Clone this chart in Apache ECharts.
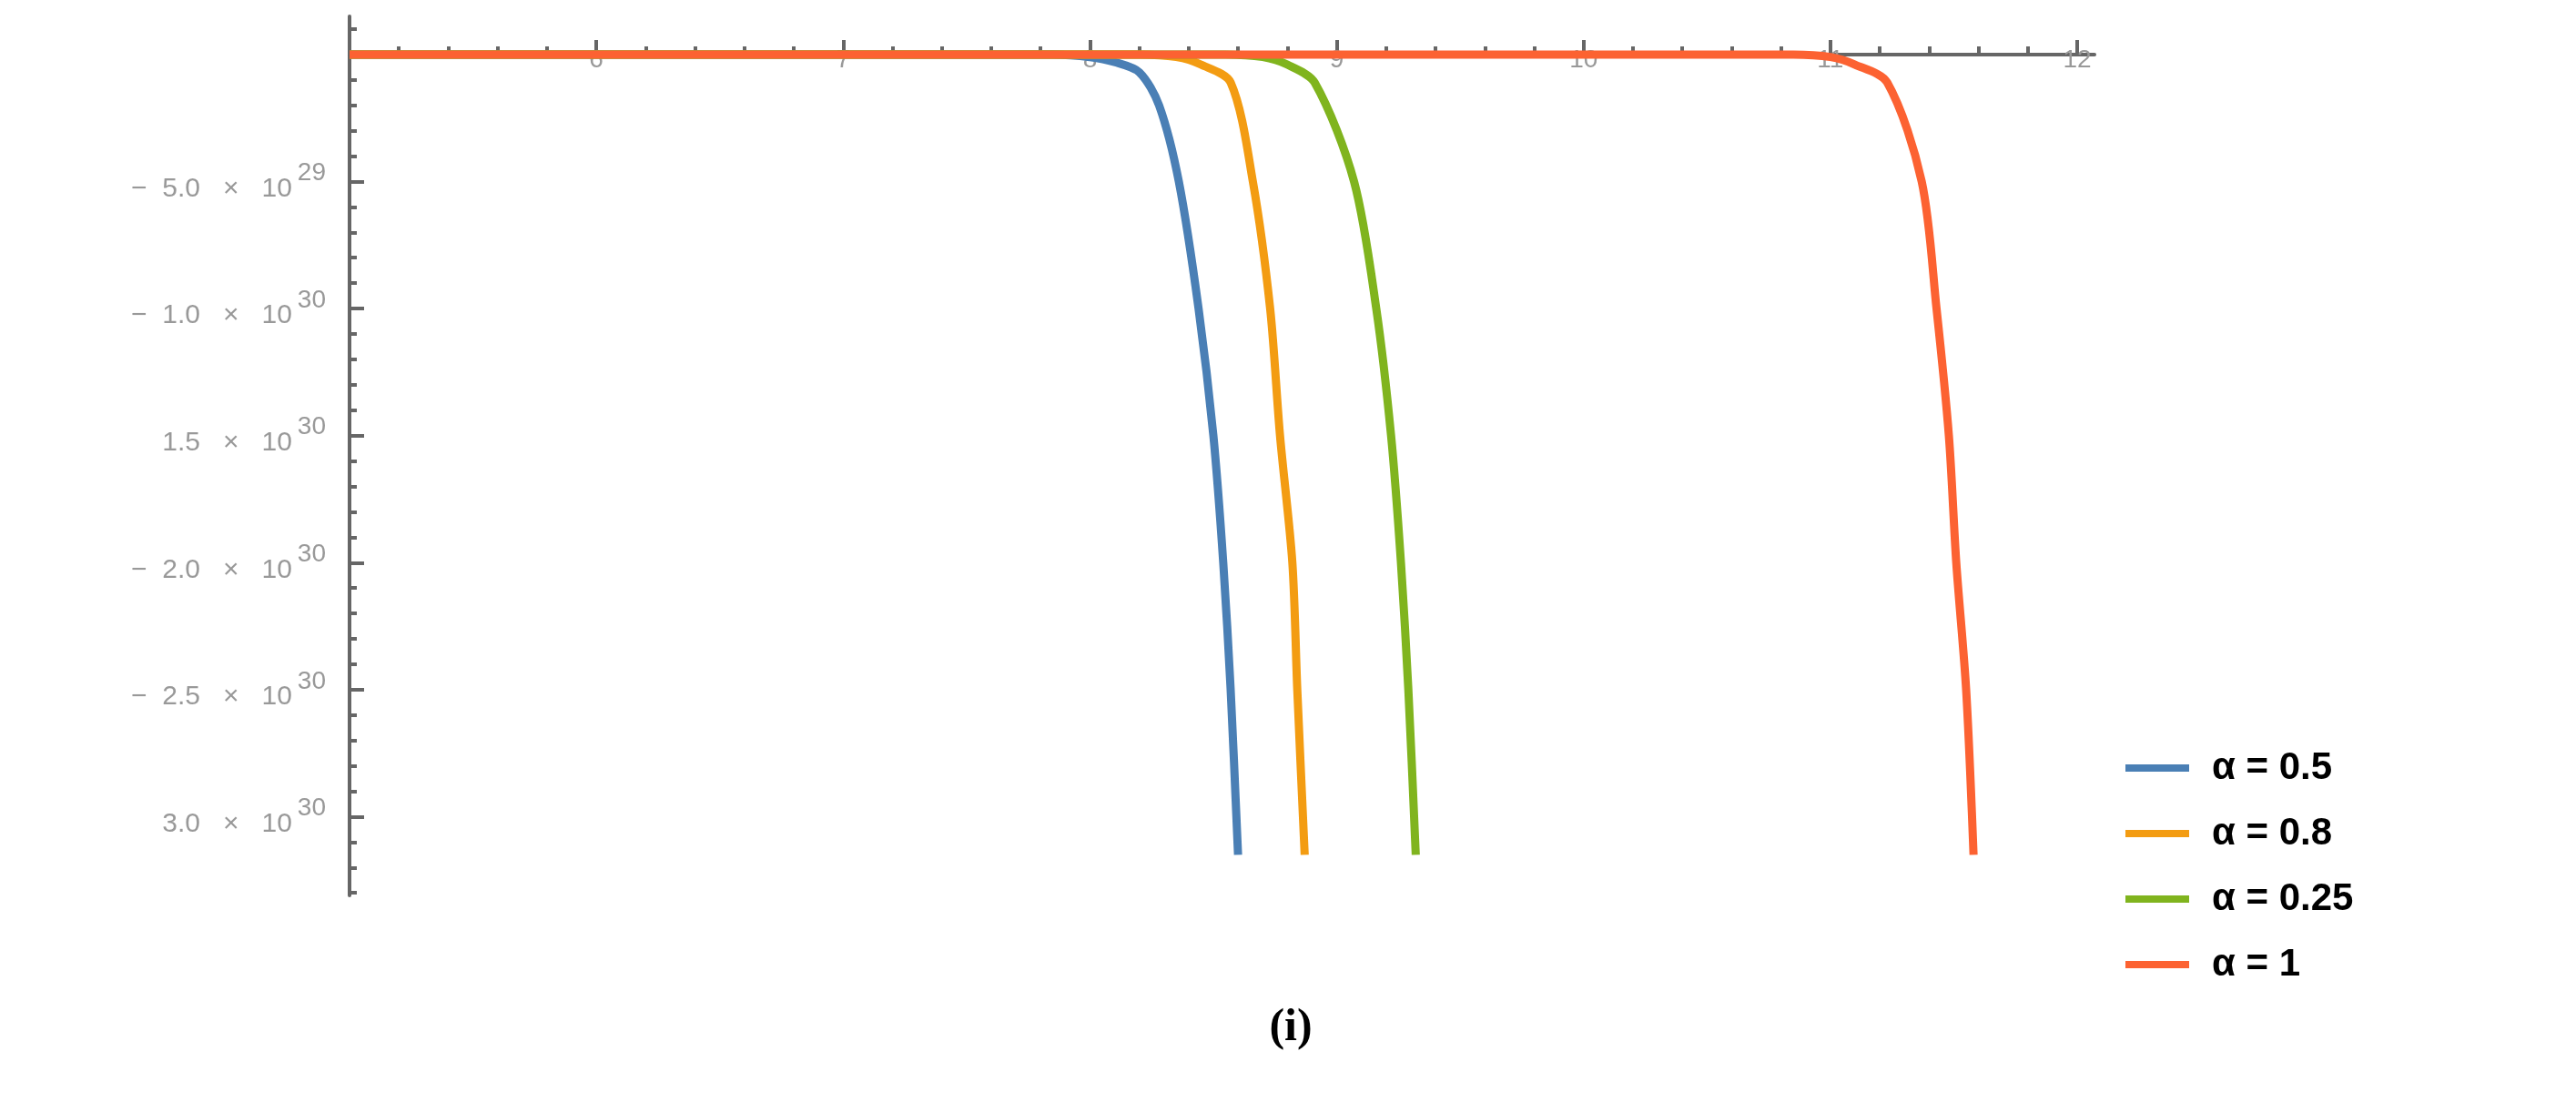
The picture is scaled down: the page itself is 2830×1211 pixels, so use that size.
<!DOCTYPE html>
<html>
<head>
<meta charset="utf-8">
<script src="https://cdn.jsdelivr.net/npm/echarts@6/dist/echarts.min.js"></script>
<style>
  html, body {margin: 0; background: #fff;}
  #chart {width: 2830px; height: 1211px;}
</style>
</head>
<body>
<div id="chart"></div>
<script>
// y values are in units of 1e30
var xTicks = [6, 7, 8, 9, 10, 11, 12];
var yTicks = [-0.5, -1.0, -1.5, -2.0, -2.5, -3.0];
var seriesNames = ['α = 0.5', 'α = 0.8', 'α = 0.25', 'α = 1'];
var seriesColors = ['#4a7fb5', '#f39c12', '#80b41e', '#fc6232'];

var curve05 = [[5, 0], [7.85, 0], [8.0, -0.01], [8.1, -0.03], [8.2, -0.07], [8.28, -0.2], [8.36, -0.5],
    [8.44, -1.0], [8.5, -1.5], [8.54, -2.0], [8.57, -2.5], [8.6, -3.15]];
var curve08 = [[5, 0], [8.2, 0], [8.35, -0.01], [8.45, -0.04], [8.57, -0.11], [8.66, -0.5],
    [8.73, -1.0], [8.77, -1.5], [8.82, -2.0], [8.84, -2.5], [8.87, -3.15]];
var curve025 = [[5, 0], [8.55, 0], [8.7, -0.01], [8.8, -0.04], [8.91, -0.11], [9.07, -0.5],
    [9.16, -1.0], [9.22, -1.5], [9.26, -2.0], [9.29, -2.5], [9.32, -3.15]];
var curve1 = [[5, 0], [10.85, 0], [11.0, -0.01], [11.1, -0.04], [11.23, -0.11], [11.37, -0.5],
    [11.43, -1.0], [11.48, -1.5], [11.51, -2.0], [11.55, -2.5], [11.58, -3.15]];
var curves = [curve05, curve08, curve025, curve1];

var xMinor = [], yMinor = [];
for (var i = 0; i <= 35; i++) { xMinor.push(5 + i * 0.2); }
for (var j = 1; j <= 33; j++) { yMinor.push(-j * 0.1); }
yMinor.push(0.1);

var gray = '#666';
var chart = echarts.init(document.getElementById('chart'));
chart.setOption({
    animation: false,
    grid: {left: 384, right: 529, top: 18, bottom: 227},
    legend: {
        orient: 'vertical', left: 2330, top: 818, itemGap: 30,
        itemWidth: 70, itemHeight: 8, icon: 'rect',
        textStyle: {fontSize: 42, fontWeight: 'bold', color: '#000', fontFamily: 'Liberation Sans',
            padding: [0, 0, 0, 20]},
        data: seriesNames
    },
    title: {
        text: '(i)', left: 1413, top: 1100, textAlign: 'center',
        textStyle: {fontSize: 50, fontWeight: 'bold', fontFamily: 'Liberation Serif', color: '#000'}
    },
    xAxis: [{
        type: 'value', min: 5, max: 12.07, position: 'top',
        axisLine: {onZero: true, lineStyle: {color: gray, width: 4}},
        axisTick: {customValues: xTicks, length: 16, lineStyle: {color: gray, width: 4}},
        axisLabel: {customValues: xTicks, margin: -62, fontSize: 28, color: '#999',
            fontFamily: 'Liberation Sans'},
        splitLine: {show: false}
    }, {
        type: 'value', min: 5, max: 12.07, position: 'top',
        axisLine: {onZero: true, show: false},
        axisTick: {customValues: xMinor, length: 9, lineStyle: {color: gray, width: 4}},
        axisLabel: {show: false}, splitLine: {show: false}
    }],
    yAxis: [{
        type: 'value', min: -3.31, max: 0.15,
        axisLine: {onZero: false, lineStyle: {color: gray, width: 4}},
        axisTick: {customValues: yTicks, inside: true, length: 16, lineStyle: {color: gray, width: 4}},
        axisLabel: {
            customValues: yTicks, margin: 26, color: '#999', fontFamily: 'Liberation Sans',
            formatter: function (v) {
                var e = 30, m = -v;
                if (m < 1) { m = m * 10; e = 29; }
                var sign = (m === 1.5 || m === 3) ? '' : '−  ';
                return '{n|' + sign + m.toFixed(1) + '   ×   10}{s|' + e + '}';
            },
            rich: {
                n: {fontSize: 30, color: '#999', padding: [16, 0, 0, 0]},
                s: {fontSize: 28, color: '#999', verticalAlign: 'top', padding: [0, 0, 16, 6]}
            }
        },
        splitLine: {show: false}
    }, {
        type: 'value', min: -3.31, max: 0.15, position: 'left',
        axisLine: {show: false},
        axisTick: {customValues: yMinor, inside: true, length: 8, lineStyle: {color: gray, width: 4}},
        axisLabel: {show: false}, splitLine: {show: false}
    }],
    series: curves.map(function (c, k) {
        return {
            name: seriesNames[k], type: 'line', data: c, smooth: 0.3,
            showSymbol: false, color: seriesColors[k],
            lineStyle: {width: 9, color: seriesColors[k]}, z: 2 + k
        };
    })
});
</script>
</body>
</html>
